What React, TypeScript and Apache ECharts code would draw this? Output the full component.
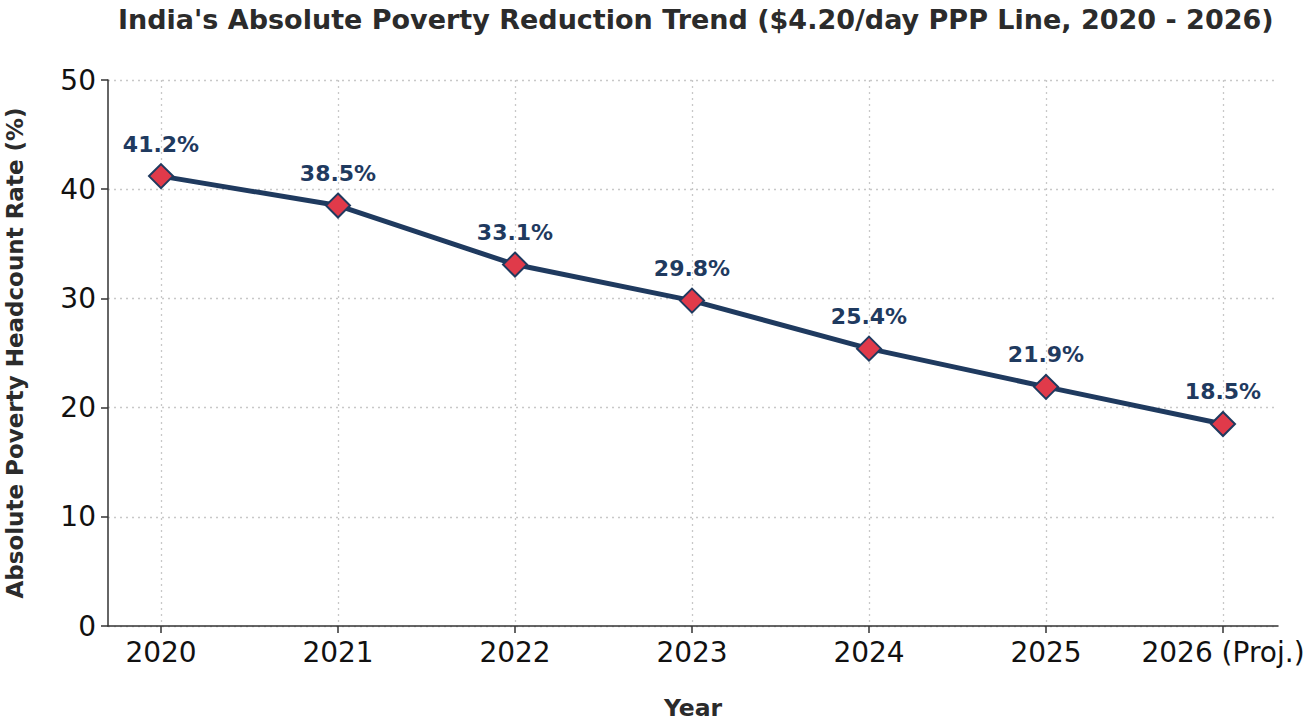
import React, { useEffect, useRef } from "react";
import * as echarts from "echarts";

const years = ["2020", "2021", "2022", "2023", "2024", "2025", "2026 (Proj.)"];
const rates = [41.2, 38.5, 33.1, 29.8, 25.4, 21.9, 18.5];
const yMin = 0;
const yMax = 50;
const yStep = 10;

const FONT = "DejaVu Sans";
const NAVY = "#1f3a5f";
const RED = "#e03a4a";

export default function App() {
  const ref = useRef<HTMLDivElement>(null);
  useEffect(() => {
    if (!ref.current) return;
    const chart = echarts.init(ref.current, null, { renderer: "svg" });
    const gridTop = 80;
    const gridBottom = 96;
    chart.setOption({
      animation: false,
      backgroundColor: "#ffffff",
      textStyle: { fontFamily: FONT },
      title: {
        text: "India's Absolute Poverty Reduction Trend ($4.20/day PPP Line, 2020 - 2026)",
        left: 113,
        top: 1,
        textStyle: { fontFamily: FONT, fontWeight: "bold", fontSize: 27, color: "#2b2b2b" },
      },
      grid: [
        { left: 108, right: 26, top: gridTop, bottom: gridBottom, outerBoundsMode: "none", containLabel: false },
        { left: 161, right: 81, top: gridTop, bottom: gridBottom, outerBoundsMode: "none", containLabel: false },
      ],
      xAxis: [
        {
          type: "value",
          gridIndex: 0,
          min: -0.3,
          max: 6.31,
          axisLine: { show: true, onZero: false, lineStyle: { color: "#333333", width: 1.5 } },
          axisTick: { show: false },
          axisLabel: { show: false },
          splitLine: { show: false },
          name: "Year",
          nameLocation: "middle",
          nameGap: 70,
          nameTextStyle: { fontFamily: FONT, fontWeight: "bold", fontSize: 23.5, color: "#2b2b2b" },
        },
        {
          type: "category",
          gridIndex: 1,
          data: years,
          boundaryGap: false,
          axisLine: { show: false },
          axisTick: { show: true, length: 7, interval: 0, lineStyle: { color: "#333333", width: 1.5 } },
          axisLabel: { fontFamily: FONT, fontSize: 28, color: "#111111", margin: 12, interval: 0 },
          splitLine: { show: true, interval: 0, lineStyle: { color: "#c8c8c8", type: [2, 4], width: 1.3 } },
        },
      ],
      yAxis: [
        {
          type: "value",
          gridIndex: 0,
          min: yMin,
          max: yMax,
          interval: yStep,
          axisLine: { show: true, onZero: false, lineStyle: { color: "#333333", width: 1.5 } },
          axisTick: { show: true, length: 7, lineStyle: { color: "#333333", width: 1.5 } },
          axisLabel: { fontFamily: FONT, fontSize: 28, color: "#111111", margin: 12 },
          splitLine: { show: true, lineStyle: { color: "#c8c8c8", type: [2, 4], width: 1.3 } },
          name: "Absolute Poverty Headcount Rate (%)",
          nameLocation: "middle",
          nameGap: 82,
          nameTextStyle: { fontFamily: FONT, fontWeight: "bold", fontSize: 23, color: "#2b2b2b" },
        },
        {
          type: "value",
          gridIndex: 1,
          min: yMin,
          max: yMax,
          interval: yStep,
          show: false,
          splitLine: { show: false },
        },
      ],
      series: [
        {
          type: "line",
          xAxisIndex: 1,
          yAxisIndex: 1,
          data: rates,
          lineStyle: { color: NAVY, width: 5 },
          symbol: "diamond",
          symbolSize: 24,
          itemStyle: { color: RED, borderColor: NAVY, borderWidth: 2 },
          label: {
            show: true,
            position: "top",
            distance: 8,
            formatter: (p: any) => p.value.toFixed(1) + "%",
            fontFamily: FONT,
            fontWeight: "bold",
            fontSize: 22,
            color: NAVY,
          },
          z: 5,
        },
      ],
    });
    return () => chart.dispose();
  }, []);
  return (
    <div
      ref={ref}
      style={{ position: "fixed", left: 0, top: 0, width: 1304, height: 722 }}
    />
  );
}
